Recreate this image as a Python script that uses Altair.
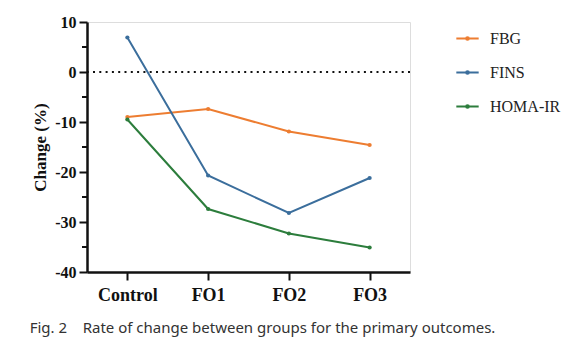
import altair as alt
import pandas as pd

categories = ["Control", "FO1", "FO2", "FO3"]
series_names = ["FBG", "FINS", "HOMA-IR"]
fbg = [-9.0, -7.4, -11.9, -14.6]
fins = [6.9, -20.7, -28.2, -21.2]
homa = [-9.5, -27.4, -32.3, -35.1]
y_ticks = [-40, -30, -20, -10, 0, 10]
y_minor = [-35, -25, -15, -5, 5]
colors = ["#ED7D31", "#3B6E9C", "#2C7D3C"]
caption = "Fig. 2\u00a0\u00a0\u00a0\u00a0Rate of change between groups for the primary outcomes."

rows = []
for name, vals in zip(series_names, [fbg, fins, homa]):
    for c, v in zip(categories, vals):
        rows.append({"group": c, "series": name, "value": v})
df = pd.DataFrame(rows)

serif = "Liberation Serif"

x_enc = alt.X("group:N", sort=categories,
              scale=alt.Scale(type="point", padding=0.5),
              axis=alt.Axis(title=None, labelFont=serif, labelFontWeight="bold",
                            labelFontSize=18, labelColor="#111", labelPadding=6,
                            tickSize=8, tickWidth=2, tickColor="#111",
                            domainColor="#111", domainWidth=2.5, labelAngle=0))
y_scale = alt.Scale(domain=[-40, 10], nice=False, zero=False)
y_enc = alt.Y("value:Q", scale=y_scale,
              axis=alt.Axis(title="Change (%)", values=y_ticks, titleFont=serif,
                            titleFontWeight="bold", titleFontSize=17, titleColor="#111",
                            titlePadding=5,
                            labelExpr="toString(datum.value)",
                            labelFont=serif, labelFontWeight="bold", labelFontSize=16,
                            labelColor="#111", labelPadding=3, tickSize=8, tickWidth=2,
                            tickColor="#111", domainColor="#111", domainWidth=2.5,
                            grid=False))

sym = "M-1,0H1M-0.12,0a0.12,0.12 0 1,0 0.24,0a0.12,0.12 0 1,0 -0.24,0"
color_enc = alt.Color("series:N", sort=series_names,
                      scale=alt.Scale(domain=series_names, range=colors),
                      legend=alt.Legend(title=None, orient="none", legendX=368, legendY=4,
                                        symbolType=sym, labelFont=serif,
                                        labelFontWeight="normal", labelFontSize=16,
                                        labelColor="#222"))

base = alt.Chart(df)
lines = base.mark_line(strokeWidth=2).encode(x=x_enc, y=y_enc, color=color_enc)
pts = base.mark_circle(size=18, opacity=1).encode(
    x=alt.X("group:N", sort=categories), y="value:Q",
    color=alt.Color("series:N", sort=series_names, legend=None))

zero = alt.Chart(pd.DataFrame({"v": [0]})).mark_rule(
    strokeDash=[2, 4.3], strokeWidth=2.2, color="#111").encode(y="v:Q")
minor = alt.Chart(pd.DataFrame({"v": y_minor})).mark_rule(
    strokeWidth=2, color="#111").encode(y="v:Q", x=alt.value(-5), x2=alt.value(0))

chart = alt.layer(zero, minor, lines, pts).properties(
    width=323, height=250,
    autosize=alt.AutoSizeParams(type="none"),
    padding={"left": 87, "top": 22, "right": 167, "bottom": 76},
    title=alt.TitleParams(text=caption, orient="bottom", anchor="start", frame="bounds",
                          font="Noto Sans", fontSize=15, fontWeight="normal",
                          color="#333", offset=17, dx=-2),
).configure_view(stroke=None).configure(background="white", font=serif).configure_legend(
    labelFont=serif, labelFontSize=16, labelColor="#222",
    symbolSize=500, symbolStrokeWidth=2,
    rowPadding=13, padding=0, labelOffset=10)

chart.save("out.html", embed_options={"renderer": "svg", "actions": False})
